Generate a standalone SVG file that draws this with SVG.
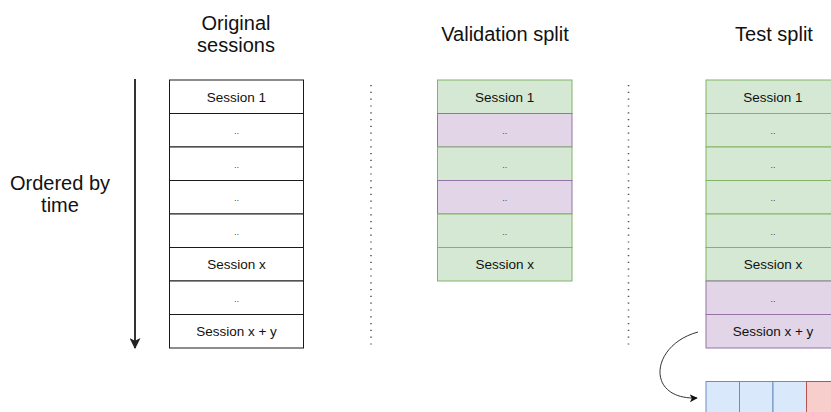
<svg xmlns="http://www.w3.org/2000/svg" width="831" height="412" viewBox="0 0 831 412">
  <style>
    text { font-family: "Liberation Sans", Arial, Helvetica, sans-serif; fill: #111; text-anchor: middle; }
    .title { font-size: 20px; }
    .lbl { font-size: 13.5px; }
    .dots { font-size: 9px; fill: #444; }
    .plain { fill: #ffffff; stroke: #1a1a1a; stroke-width: 1; }
    .green { fill: #d5e8d4; stroke: #82b366; stroke-width: 1; }
    .purple { fill: #e1d5e7; stroke: #9673a6; stroke-width: 1; }
    .blue { fill: #dae8fc; stroke: #6c8ebf; stroke-width: 1; }
    .red { fill: #f8cecc; stroke: #b85450; stroke-width: 1; }
    .sep { stroke: #555; stroke-width: 1.6; stroke-dasharray: 1.2 5.6; fill: none; }
    .time { stroke: #333; stroke-width: 2; fill: none; }
    .curve { stroke: #333; stroke-width: 1; fill: none; }
  </style>
  <defs>
    <marker id="headBig" viewBox="0 0 10 10" refX="9" refY="5" markerWidth="5.5" markerHeight="5.5" markerUnits="strokeWidth" orient="auto">
      <path d="M0,0 L10,5 L0,10 L2.5,5 Z" fill="#222"/>
    </marker>
    <marker id="headSmall" viewBox="0 0 10 10" refX="9" refY="5" markerWidth="8" markerHeight="8" markerUnits="strokeWidth" orient="auto">
      <path d="M0,0 L10,5 L0,10 L2.5,5 Z" fill="#111"/>
    </marker>
  </defs>

  <!-- headings -->
  <g id="heading-original">
    <text class="title" x="236" y="30">Original</text>
    <text class="title" x="236" y="52">sessions</text>
  </g>
  <g id="heading-validation"><text class="title" x="505" y="41">Validation split</text></g>
  <g id="heading-test"><text class="title" x="774" y="41">Test split</text></g>
  <g id="label-time">
    <text class="title" x="60" y="190">Ordered by</text>
    <text class="title" x="60" y="212">time</text>
  </g>

  <!-- original sessions column -->
  <g id="orig-1"><rect class="plain" x="169.5" y="80" width="134" height="33.5"/><text class="lbl" x="236.5" y="101.5">Session 1</text></g>
  <g id="orig-2"><rect class="plain" x="169.5" y="113.5" width="134" height="33.5"/><text class="dots" x="236.5" y="134">..</text></g>
  <g id="orig-3"><rect class="plain" x="169.5" y="147" width="134" height="33.5"/><text class="dots" x="236.5" y="167.5">..</text></g>
  <g id="orig-4"><rect class="plain" x="169.5" y="180.5" width="134" height="33.5"/><text class="dots" x="236.5" y="201">..</text></g>
  <g id="orig-5"><rect class="plain" x="169.5" y="214" width="134" height="33.5"/><text class="dots" x="236.5" y="234.5">..</text></g>
  <g id="orig-6"><rect class="plain" x="169.5" y="247.5" width="134" height="33.5"/><text class="lbl" x="236.5" y="269">Session x</text></g>
  <g id="orig-7"><rect class="plain" x="169.5" y="281" width="134" height="33.5"/><text class="dots" x="236.5" y="301.5">..</text></g>
  <g id="orig-8"><rect class="plain" x="169.5" y="314.5" width="134" height="33.5"/><text class="lbl" x="236.5" y="336">Session x + y</text></g>

  <!-- validation split column -->
  <g id="val-1"><rect class="green" x="437.5" y="80" width="134.5" height="33.5"/><text class="lbl" x="504.75" y="101.5">Session 1</text></g>
  <g id="val-2"><rect class="purple" x="437.5" y="113.5" width="134.5" height="33.5"/><text class="dots" x="504.75" y="134">..</text></g>
  <g id="val-3"><rect class="green" x="437.5" y="147" width="134.5" height="33.5"/><text class="dots" x="504.75" y="167.5">..</text></g>
  <g id="val-4"><rect class="purple" x="437.5" y="180.5" width="134.5" height="33.5"/><text class="dots" x="504.75" y="201">..</text></g>
  <g id="val-5"><rect class="green" x="437.5" y="214" width="134.5" height="33.5"/><text class="dots" x="504.75" y="234.5">..</text></g>
  <g id="val-6"><rect class="green" x="437.5" y="247.5" width="134.5" height="33.5"/><text class="lbl" x="504.75" y="269">Session x</text></g>

  <!-- test split column -->
  <g id="test-1"><rect class="green" x="706" y="80" width="134.5" height="33.5"/><text class="lbl" x="773" y="101.5">Session 1</text></g>
  <g id="test-2"><rect class="green" x="706" y="113.5" width="134.5" height="33.5"/><text class="dots" x="773" y="134">..</text></g>
  <g id="test-3"><rect class="green" x="706" y="147" width="134.5" height="33.5"/><text class="dots" x="773" y="167.5">..</text></g>
  <g id="test-4"><rect class="green" x="706" y="180.5" width="134.5" height="33.5"/><text class="dots" x="773" y="201">..</text></g>
  <g id="test-5"><rect class="green" x="706" y="214" width="134.5" height="33.5"/><text class="dots" x="773" y="234.5">..</text></g>
  <g id="test-6"><rect class="green" x="706" y="247.5" width="134.5" height="33.5"/><text class="lbl" x="773" y="269">Session x</text></g>
  <g id="test-7"><rect class="purple" x="706" y="281" width="134.5" height="33.5"/><text class="dots" x="773" y="301.5">..</text></g>
  <g id="test-8"><rect class="purple" x="706" y="314.5" width="134.5" height="33.5"/><text class="lbl" x="773" y="336">Session x + y</text></g>

  <!-- event row of the last session -->
  <g id="events">
    <rect class="blue" x="706" y="381.5" width="33.5" height="40"/>
    <rect class="blue" x="739.5" y="381.5" width="33.5" height="40"/>
    <rect class="blue" x="773" y="381.5" width="33.5" height="40"/>
    <rect class="red" x="806.5" y="381.5" width="33.5" height="40"/>
  </g>

  <!-- connectors and separators -->
  <g id="connectors">
    <line class="time" x1="135" y1="79" x2="135" y2="348" marker-end="url(#headBig)"/>
    <line class="sep" x1="371" y1="85" x2="371" y2="350"/>
    <line class="sep" x1="628.5" y1="85" x2="628.5" y2="350"/>
    <path class="curve" d="M 698 332 C 650 345, 645 400, 697 398" marker-end="url(#headSmall)"/>
  </g>
</svg>
